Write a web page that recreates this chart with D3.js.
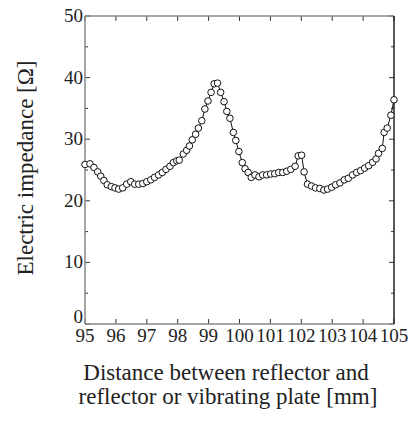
<!DOCTYPE html>
<html>
<head>
<meta charset="utf-8">
<script src="https://cdn.jsdelivr.net/npm/d3@7"></script>
<style>
  body { margin: 0; background: #fff; }
</style>
</head>
<body>
<div id="chart"></div>
<script>
// distance [mm] and impedance [ohm]
const distance = [95.00, 95.16, 95.29, 95.41, 95.51, 95.61, 95.72, 95.85, 95.97, 96.09,
  96.22, 96.35, 96.48, 96.61, 96.74, 96.87, 97.00, 97.13, 97.25, 97.38,
  97.50, 97.62, 97.75, 97.86, 97.97, 98.05, 98.18, 98.29, 98.38, 98.47,
  98.58, 98.67, 98.78, 98.88, 98.98, 99.08, 99.18, 99.29, 99.39, 99.50,
  99.59, 99.69, 99.80, 99.88, 99.98, 100.09, 100.18, 100.28, 100.38, 100.50,
  100.63, 100.75, 100.88, 101.01, 101.14, 101.27, 101.40, 101.53, 101.66, 101.80,
  101.90, 102.01, 102.09, 102.20, 102.33, 102.46, 102.60, 102.73, 102.85, 102.98,
  103.11, 103.25, 103.39, 103.52, 103.66, 103.79, 103.92, 104.05, 104.18, 104.31,
  104.42, 104.50, 104.62, 104.68, 104.78, 104.90, 105.00];
const impedance = [25.9, 26.0, 25.4, 24.7, 24.0, 23.3, 22.6, 22.3, 22.1, 21.9,
  22.1, 22.7, 23.1, 22.7, 22.7, 22.8, 23.1, 23.4, 23.8, 24.2,
  24.6, 25.1, 25.6, 26.2, 26.5, 26.6, 27.6, 28.2, 28.9, 29.9,
  30.8, 31.8, 33.0, 34.9, 36.2, 37.6, 39.0, 39.1, 37.6, 36.1,
  34.5, 33.4, 31.1, 29.8, 28.0, 26.2, 25.2, 24.6, 23.8, 24.2,
  23.9, 24.2, 24.2, 24.35, 24.4, 24.6, 24.6, 24.8, 25.1, 25.6,
  27.3, 27.4, 24.7, 22.7, 22.4, 22.1, 22.0, 21.75, 21.9, 22.2,
  22.6, 22.9, 23.4, 23.65, 24.2, 24.6, 24.9, 25.3, 25.7, 26.25,
  26.8, 27.7, 28.5, 31.1, 31.8, 33.9, 36.4];
const xTicks = [95, 96, 97, 98, 99, 100, 101, 102, 103, 104, 105];
const yTicks = [0, 10, 20, 30, 40, 50];
const yMinor = [5, 15, 25, 35, 45];

const FONT = "'Liberation Serif', 'Times New Roman', Times, serif";

const data = distance.map((d, i) => ({ x: d, y: impedance[i] }));

const margin = { top: 16, right: 17, bottom: 97, left: 85 },
  width = 411 - margin.left - margin.right,
  height = 421 - margin.top - margin.bottom;

const svg = d3.select("#chart").append("svg")
  .attr("width", 411)
  .attr("height", 421);

const g = svg.append("g")
  .attr("transform", "translate(" + margin.left + "," + margin.top + ")");

const x = d3.scaleLinear().domain([95, 105]).range([0, width]);
const y = d3.scaleLinear().domain([0, 50]).range([height, 0]);

// inward ticks on all four sides
function tickLines(sel, vals, axis, len) {
  sel.selectAll(null).data(vals).enter().append("line")
    .attr("x1", d => axis === "x" ? x(d) : 0)
    .attr("x2", d => axis === "x" ? x(d) : len)
    .attr("y1", d => axis === "x" ? 0 : y(d))
    .attr("y2", d => axis === "x" ? len : y(d))
    .attr("stroke", "#333").attr("stroke-width", 1);
}
const bottomT = g.append("g").attr("transform", "translate(0," + height + ")");
tickLines(bottomT, xTicks, "x", -5);
const topT = g.append("g");
tickLines(topT, xTicks, "x", 5);
const leftT = g.append("g");
tickLines(leftT, yTicks, "y", 5);
tickLines(leftT, yMinor, "y", 3);
const rightT = g.append("g").attr("transform", "translate(" + width + ",0)");
tickLines(rightT, yTicks, "y", -5);
tickLines(rightT, yMinor, "y", -3);

// frame
g.append("line").attr("x1", 0).attr("x2", width).attr("y1", 0).attr("y2", 0)
  .attr("stroke", "#888").attr("stroke-width", 1.5);
g.append("line").attr("x1", 0).attr("x2", width).attr("y1", height).attr("y2", height)
  .attr("stroke", "#888").attr("stroke-width", 1.5);
g.append("line").attr("x1", 0).attr("x2", 0).attr("y1", 0).attr("y2", height)
  .attr("stroke", "#888").attr("stroke-width", 1.5);
g.append("line").attr("x1", width).attr("x2", width).attr("y1", 0).attr("y2", height)
  .attr("stroke", "#222").attr("stroke-width", 1.5);

// tick labels
g.selectAll(".xl").data(xTicks).enter().append("text")
  .attr("x", d => x(d)).attr("y", height + 18)
  .attr("text-anchor", "middle").attr("font-size", 19)
  .attr("font-family", FONT).attr("fill", "#222")
  .text(d => d);
g.selectAll(".yl").data(yTicks).enter().append("text")
  .attr("x", -2).attr("y", d => d === 0 ? y(d) - 1 : y(d) + 6)
  .attr("text-anchor", "end").attr("font-size", 19)
  .attr("font-family", FONT).attr("fill", "#222")
  .text(d => d);

// line and markers
g.append("path").datum(data)
  .attr("fill", "none").attr("stroke", "#111").attr("stroke-width", 1)
  .attr("d", d3.line().x(d => x(d.x)).y(d => y(d.y)));
g.selectAll(".pt").data(data).enter().append("circle")
  .attr("cx", d => x(d.x)).attr("cy", d => y(d.y)).attr("r", 3.3)
  .attr("fill", "#fff").attr("stroke", "#111").attr("stroke-width", 1);

// axis titles
svg.append("text")
  .attr("transform", "translate(33,168) rotate(-90)")
  .attr("text-anchor", "middle").attr("font-size", 23)
  .attr("font-family", FONT).attr("fill", "#222")
  .text("Electric impedance [Ω]");
svg.append("text").attr("x", 226).attr("y", 380)
  .attr("text-anchor", "middle").attr("font-size", 23)
  .attr("font-family", FONT).attr("fill", "#222")
  .text("Distance between reflector and");
svg.append("text").attr("x", 228).attr("y", 404)
  .attr("text-anchor", "middle").attr("font-size", 23)
  .attr("font-family", FONT).attr("fill", "#222")
  .text("reflector or vibrating plate [mm]");
</script>
</body>
</html>
